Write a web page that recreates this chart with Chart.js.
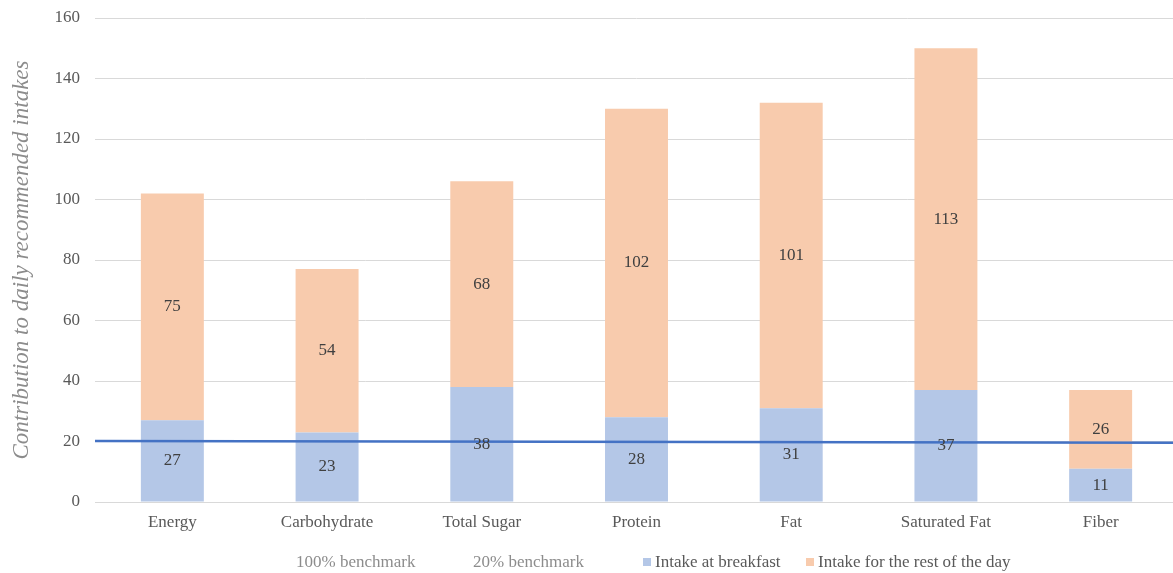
<!DOCTYPE html>
<html>
<head>
<meta charset="utf-8">
<script src="https://cdn.jsdelivr.net/npm/chart.js@4"></script>
<style>
  body { margin: 0; overflow: hidden; background: #fff; }
  #wrap { position: absolute; left: 0; top: 0; width: 1180px; height: 573px; }
  #legend { position: absolute; left: 0; top: 551px; width: 1173px; height: 22px;
            font-family: "Liberation Serif", serif; font-size: 17px; color: #595959; }
  .item { position: absolute; top: 0; white-space: nowrap; line-height: 22px; }
  .box { display: inline-block; width: 8px; height: 8px; margin-right: 4px; vertical-align: 1px; }
</style>
</head>
<body>
<div id="wrap"><canvas id="chart"></canvas></div>
<div id="legend"></div>
<script>
const categories = ['Energy', 'Carbohydrate', 'Total Sugar', 'Protein', 'Fat', 'Saturated Fat', 'Fiber'];
const breakfast = [27, 23, 38, 28, 31, 37, 11];
const restOfDay = [75, 54, 68, 102, 101, 113, 26];
// benchmark lines run across the whole plot (x from 0 to 1 on a hidden axis)
const bench100 = [100, 100];
const bench20 = [20.2, 19.6];
const yTicks = [0, 20, 40, 60, 80, 100, 120, 140, 160];

const serif = '"Liberation Serif", "Times New Roman", serif';

const segmentLabels = {
  id: 'segmentLabels',
  afterDatasetsDraw(chart) {
    const ctx = chart.ctx;
    ctx.save();
    ctx.font = '17px ' + serif;
    ctx.fillStyle = '#404040';
    ctx.textAlign = 'center';
    ctx.textBaseline = 'middle';
    chart.data.datasets.forEach((ds, i) => {
      if (ds.type !== 'bar') return;
      chart.getDatasetMeta(i).data.forEach((bar, j) => {
        const p = bar.getProps(['x', 'y', 'base'], true);
        ctx.fillText(ds.data[j], p.x, (p.y + p.base) / 2);
      });
    });
    ctx.restore();
  }
};

const toLine = vals => vals.map((v, i) => ({ x: i, y: v }));

const datasets = [
  {
    type: 'line', label: '100% benchmark', data: toLine(bench100), xAxisID: 'x2', stack: 'b100',
    borderColor: 'rgba(0,0,0,0)', pointRadius: 0, order: 0, legendColor: null, textColor: '#8c8c8c'
  },
  {
    type: 'line', label: '20% benchmark', data: toLine(bench20), xAxisID: 'x2', stack: 'b20',
    borderColor: '#4472C4', borderWidth: 2.5, pointRadius: 0, order: 0, legendColor: null, textColor: '#8c8c8c'
  },
  {
    type: 'bar', label: 'Intake at breakfast', data: breakfast, stack: 'intake', grouped: false,
    backgroundColor: '#B4C7E7', order: 1, legendColor: '#B4C7E7'
  },
  {
    type: 'bar', label: 'Intake for the rest of the day', data: restOfDay, stack: 'intake', grouped: false,
    backgroundColor: '#F8CBAD', order: 1, legendColor: '#F8CBAD'
  }
];

const ctx = document.getElementById('chart').getContext('2d');
const chart = new Chart(ctx, {
  data: { labels: categories, datasets: datasets },
  options: {
    responsive: true,
    maintainAspectRatio: false,
    animation: false,
    layout: { padding: { top: 18, right: 2, left: 0, bottom: 0 } },
    datasets: { bar: { categoryPercentage: 1, barPercentage: 0.407 } },
    plugins: { legend: { display: false }, tooltip: { enabled: false } },
    scales: {
      x: {
        stacked: true,
        grid: { display: false, drawTicks: false },
        border: { display: true, color: '#D9D9D9' },
        ticks: { color: '#595959', font: { family: serif, size: 17 }, padding: 10 },
        afterFit: s => { s.height = 71; }
      },
      x2: { type: 'linear', min: 0, max: 1, display: false, offset: false },
      y: {
        stacked: true,
        min: 0, max: 160,
        afterBuildTicks: s => { s.ticks = yTicks.map(v => ({ value: v })); },
        grid: { color: '#D9D9D9', drawTicks: false },
        border: { display: false },
        ticks: { color: '#595959', font: { family: serif, size: 17 }, padding: 15 },
        title: {
          display: true, text: 'Contribution to daily recommended intakes',
          color: '#8c8c8c', font: { family: serif, size: 23, style: 'italic' },
          padding: { top: 8, bottom: 0 }
        },
        afterFit: s => { s.width = 95; s.paddingTop = 0; s.paddingBottom = 0; }
      }
    }
  },
  plugins: [segmentLabels]
});

// legend below the chart
const legendLefts = [284, 461, 643, 806];
const legend = document.getElementById('legend');
chart.data.datasets.forEach((ds, i) => {
  const item = document.createElement('div');
  item.className = 'item';
  item.style.left = legendLefts[i] + 'px';
  const box = document.createElement('span');
  box.className = 'box';
  box.style.background = ds.legendColor || 'transparent';
  item.appendChild(box);
  const txt = document.createElement('span');
  txt.textContent = ds.label;
  if (ds.textColor) txt.style.color = ds.textColor;
  item.appendChild(txt);
  legend.appendChild(item);
});
</script>
</body>
</html>
